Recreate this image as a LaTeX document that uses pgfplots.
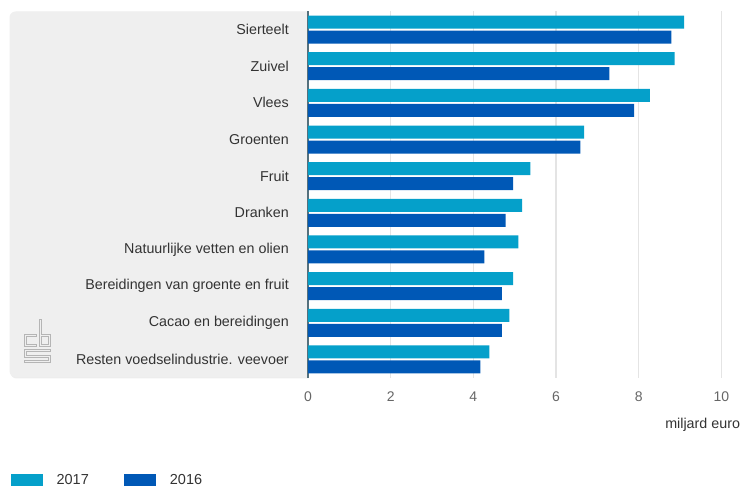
\documentclass[border=0pt]{standalone}
\usepackage{pgfplots}
\pgfplotsset{compat=1.18}
\usepackage{fontspec}
\setmainfont{Liberation Sans}
\definecolor{c2017}{HTML}{05A0CA}
\definecolor{c2016}{HTML}{0058B6}
\definecolor{panel}{HTML}{EFEFEF}
\definecolor{gridc}{HTML}{E4E4E4}
\definecolor{labc}{HTML}{333333}
\definecolor{tickc}{HTML}{666666}
\definecolor{axc}{HTML}{55707C}
\definecolor{logoc}{HTML}{B5B5B5}
\begin{document}
\begin{tikzpicture}[x=1pt,y=1pt]
\useasboundingbox (0,0) rectangle (746,486);
\clip (0,0) rectangle (746,486);
% gray panel behind the category labels
\begin{scope}
\clip (0,0) rectangle (308.5,486);
\fill[gray!14, rounded corners=6pt] (10.5,107.5) rectangle (330,474);
\fill[panel, rounded corners=6pt] (9.5,109) rectangle (330,474.5);
\end{scope}
% cbs logo
\begin{scope}[line cap=rect, line join=miter]
\foreach \w/\c in {3pt/logoc, 1pt/panel}{
\draw[line width=\w, color=\c] (35,150) -- (25,150) -- (25,140) -- (35,140);
\draw[line width=\w, color=\c] (40,165) -- (40,140) -- (49,140) -- (49,150) -- (40,150);
\draw[line width=\w, color=\c] (49,135) -- (25,135) -- (25,129.5) -- (49,129.5) -- (49,124) -- (25,124);
}
\end{scope}
\begin{axis}[
  at={(308pt,108.2pt)}, anchor=south west,
  scale only axis,
  width=413.3pt, height=366.6pt,
  xbar, bar width=13pt,
  xmin=0, xmax=10,
  ymin=-0.5, ymax=9.5,
  y dir=reverse,
  xtick={0,2,4,6,8,10},
  ytick={0,...,9},
  yticklabels={Sierteelt,Zuivel,Vlees,Groenten,Fruit,Dranken,Natuurlijke vetten en olien,Bereidingen van groente en fruit,Cacao en bereidingen,{Resten voedselindustrie. veevoer}},
  major tick length=0pt,
  axis x line*=bottom, axis y line*=left,
  x axis line style={draw=none},
  y axis line style={draw=axc, line width=1.6pt},
  xmajorgrids, grid style={draw=gridc, line width=1.2pt},
  /pgf/number format/assume math mode=true,
  yticklabel style={anchor=east, inner sep=0pt, xshift=-19pt, font=\fontsize{14.3}{16}\selectfont, text=labc},
  xticklabel style={anchor=north, inner sep=0pt, yshift=-14pt, font=\fontsize{14}{16}\selectfont, text=tickc},
  xlabel={miljard euro},
  xlabel style={at={(axis description cs:0.864,0)}, anchor=west, inner sep=0pt, yshift=-47pt, font=\fontsize{14.3}{16}\selectfont, text=labc},
  legend style={at={(axis description cs:-0.72,-0.279)}, anchor=west, draw=none, fill=none, inner sep=0pt,
    font=\fontsize{14.5}{16}\selectfont, text=labc,
    nodes={inner sep=0pt},
    /tikz/every odd column/.append style={column sep=14pt},
    /tikz/every even column/.append style={column sep=35pt}},
  legend columns=2,
  legend image code/.code={\fill[#1] (0pt,-6pt) rectangle (32pt,6pt);},
]
\addplot[fill=c2017, draw=none, bar shift=7.5pt] coordinates {
(9.10,0) (8.87,1) (8.27,2) (6.68,3) (5.38,4) (5.18,5) (5.09,6) (4.96,7) (4.87,8) (4.39,9)};
\addlegendentry{2017}
\addplot[fill=c2016, draw=none, bar shift=-7.5pt] coordinates {
(8.79,0) (7.29,1) (7.89,2) (6.59,3) (4.96,4) (4.78,5) (4.27,6) (4.69,7) (4.69,8) (4.17,9)};
\addlegendentry{2016}
\end{axis}
\end{tikzpicture}
\end{document}
